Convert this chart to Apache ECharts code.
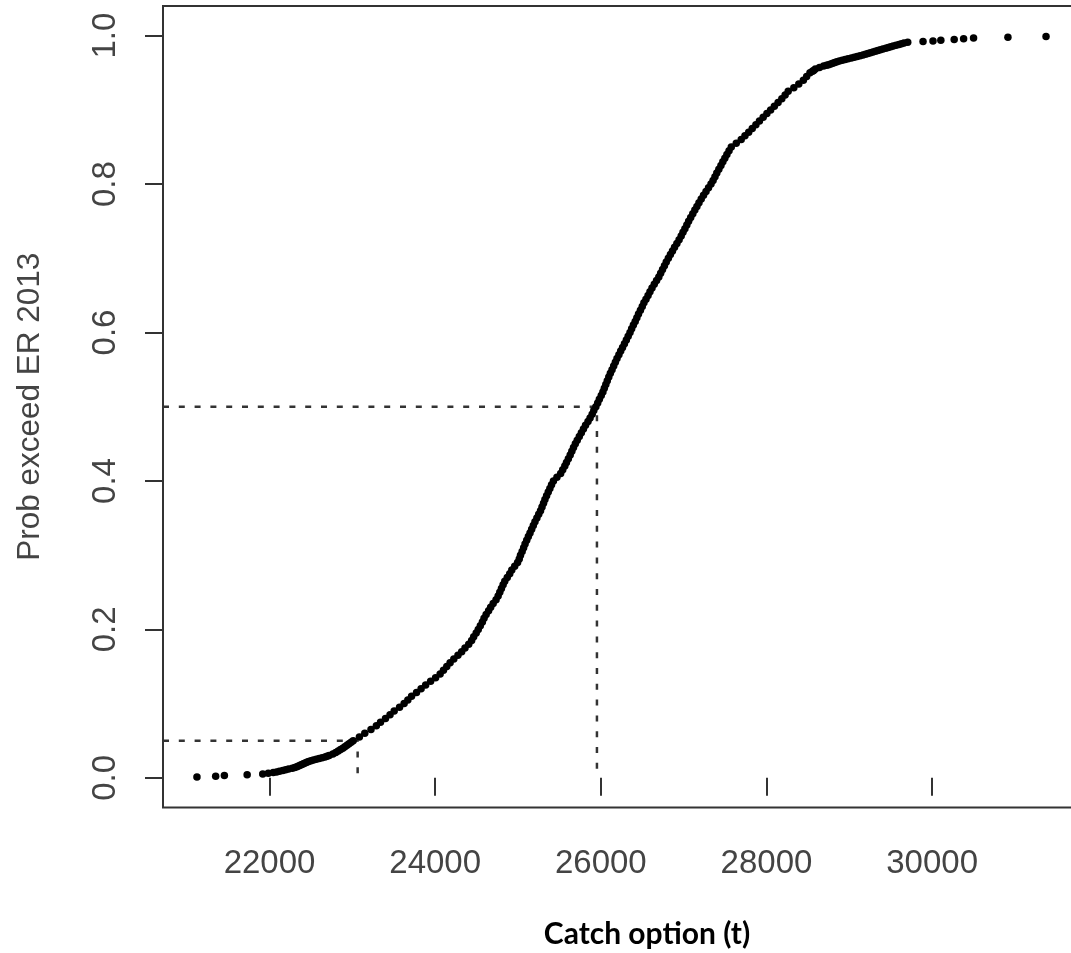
<!DOCTYPE html>
<html>
<head>
<meta charset="utf-8">
<title>Catch option vs probability of exceeding ER 2013</title>
<script src="https://cdn.jsdelivr.net/npm/echarts@6/dist/echarts.min.js"></script>
<style>
  html, body { margin: 0; padding: 0; background: #ffffff; }
  #chart { width: 1071px; height: 953px; }
</style>
</head>
<body>
<div id="chart"></div>
<script>
// Axis ticks
const xTicks = [22000, 24000, 26000, 28000, 30000];
const yTicks = [0, 0.2, 0.4, 0.6, 0.8, 1.0];

// Plot limits (data range padded by 4% on each side)
const xRange = [20714, 31773];
const yRange = [-0.04, 1.04];

// Cumulative probability of exceeding ER 2013 by catch option: [catch (t), probability]
const lowerTail = [
  [21124, 0.001], [21350, 0.002], [21455, 0.003], [21730, 0.004], [21918, 0.005],
  [21985, 0.006], [22045, 0.007], [22085, 0.008], [22120, 0.009], [22160, 0.010],
  [22195, 0.011], [22230, 0.012], [22275, 0.013], [22305, 0.014], [22330, 0.015],
  [22350, 0.016], [22370, 0.017], [22390, 0.018], [22410, 0.019], [22430, 0.020],
  [22450, 0.021], [22472, 0.022], [22500, 0.023], [22530, 0.024], [22565, 0.025],
  [22600, 0.026], [22635, 0.027], [22670, 0.028], [22695, 0.029], [22720, 0.030],
  [22765, 0.032], [22800, 0.034], [22830, 0.036], [22858, 0.038], [22885, 0.040],
  [22910, 0.042], [22935, 0.044], [22960, 0.046], [22985, 0.048]
];

const body = [
  [23010, 0.050], [23085, 0.055], [23150, 0.060], [23225, 0.065], [23290, 0.070],
  [23340, 0.075], [23400, 0.080], [23455, 0.085], [23505, 0.090], [23570, 0.095],
  [23625, 0.100], [23670, 0.105], [23715, 0.110], [23775, 0.115], [23830, 0.120],
  [23885, 0.125], [23945, 0.130], [24005, 0.135], [24060, 0.140], [24100, 0.145],
  [24140, 0.150], [24180, 0.155], [24225, 0.160], [24275, 0.165], [24320, 0.170],
  [24360, 0.175], [24405, 0.180], [24440, 0.185], [24465, 0.190], [24495, 0.195],
  [24520, 0.200], [24545, 0.205], [24570, 0.210], [24590, 0.215], [24615, 0.220],
  [24645, 0.225], [24670, 0.230], [24700, 0.235], [24735, 0.240], [24760, 0.245],
  [24780, 0.250], [24800, 0.255], [24820, 0.260], [24840, 0.265], [24870, 0.270],
  [24900, 0.275], [24925, 0.280], [24960, 0.285], [24995, 0.290], [25015, 0.295],
  [25030, 0.300], [25050, 0.305], [25068, 0.310], [25085, 0.315], [25105, 0.320],
  [25125, 0.325], [25145, 0.330], [25165, 0.335], [25185, 0.340], [25205, 0.345],
  [25228, 0.350], [25250, 0.355], [25272, 0.360], [25290, 0.365], [25308, 0.370],
  [25325, 0.375], [25345, 0.380], [25365, 0.385], [25385, 0.390], [25405, 0.395],
  [25428, 0.400], [25470, 0.405], [25515, 0.410], [25540, 0.415], [25565, 0.420],
  [25585, 0.425], [25608, 0.430], [25630, 0.435], [25650, 0.440], [25670, 0.445],
  [25692, 0.450], [25715, 0.455], [25740, 0.460], [25765, 0.465], [25790, 0.470],
  [25815, 0.475], [25845, 0.480], [25870, 0.485], [25895, 0.490], [25915, 0.495],
  [25940, 0.500], [25962, 0.505], [25982, 0.510], [26005, 0.515], [26025, 0.520],
  [26042, 0.525], [26060, 0.530], [26078, 0.535], [26096, 0.540], [26115, 0.545],
  [26135, 0.550], [26155, 0.555], [26175, 0.560], [26195, 0.565], [26218, 0.570],
  [26240, 0.575], [26262, 0.580], [26285, 0.585], [26308, 0.590], [26330, 0.595],
  [26352, 0.600], [26372, 0.605], [26393, 0.610], [26415, 0.615], [26435, 0.620],
  [26455, 0.625], [26478, 0.630], [26500, 0.635], [26520, 0.640], [26545, 0.645],
  [26570, 0.650], [26593, 0.655], [26618, 0.660], [26645, 0.665], [26673, 0.670],
  [26700, 0.675], [26722, 0.680], [26745, 0.685], [26768, 0.690], [26790, 0.695],
  [26815, 0.700], [26840, 0.705], [26865, 0.710], [26890, 0.715], [26918, 0.720],
  [26945, 0.725], [26970, 0.730], [26992, 0.735], [27015, 0.740], [27038, 0.745],
  [27060, 0.750], [27085, 0.755], [27110, 0.760], [27135, 0.765], [27160, 0.770],
  [27185, 0.775], [27212, 0.780], [27240, 0.785], [27270, 0.790], [27300, 0.795],
  [27330, 0.800], [27355, 0.805], [27378, 0.810], [27400, 0.815], [27425, 0.820],
  [27450, 0.825], [27473, 0.830], [27497, 0.835], [27522, 0.840], [27548, 0.845],
  [27575, 0.850], [27635, 0.855], [27695, 0.860], [27740, 0.865], [27785, 0.870],
  [27828, 0.875], [27872, 0.880], [27915, 0.885], [27960, 0.890], [28005, 0.895],
  [28050, 0.900], [28095, 0.905], [28140, 0.910], [28185, 0.915], [28225, 0.920],
  [28262, 0.925], [28330, 0.930], [28390, 0.935], [28445, 0.940], [28485, 0.945],
  [28525, 0.950], [28555, 0.952], [28570, 0.953]
];

const upperTail = [
  [28590, 0.955], [28640, 0.957], [28690, 0.959], [28725, 0.960], [28750, 0.961],
  [28775, 0.962], [28800, 0.963], [28825, 0.964], [28850, 0.965], [28880, 0.966],
  [28915, 0.967], [28950, 0.968], [28985, 0.969], [29025, 0.970], [29060, 0.971],
  [29095, 0.972], [29130, 0.973], [29165, 0.974], [29195, 0.975], [29225, 0.976],
  [29255, 0.977], [29285, 0.978], [29315, 0.979], [29345, 0.980], [29375, 0.981],
  [29405, 0.982], [29440, 0.983], [29470, 0.984], [29500, 0.985], [29530, 0.986],
  [29565, 0.987], [29600, 0.988], [29630, 0.989], [29660, 0.990], [29705, 0.991],
  [29890, 0.992], [30010, 0.993], [30105, 0.994], [30266, 0.995], [30380, 0.996],
  [30500, 0.997], [30915, 0.998], [31375, 0.999]
];

// Reference probabilities and the catch at which each is reached
const refProb = [0.05, 0.5];
const refCatch = [23064, 25953];

const axisGrey = '#333333';
const textGrey = '#444444';
const tickFont = '"Liberation Sans", Arial, Helvetica, sans-serif';

const chart = echarts.init(document.getElementById('chart'), null, { renderer: 'canvas' });

// Dotted guide from the left frame to the curve, then down to zero
const guideSeries = refProb.map((p, i) => ({
  type: 'line',
  data: [[xRange[0], p], [refCatch[i], p], [refCatch[i], 0]],
  showSymbol: false,
  symbol: 'none',
  silent: true,
  z: 1,
  lineStyle: { color: '#333333', width: 2.5, type: [6, 9.8] }
}));

chart.setOption({
  animation: false,
  backgroundColor: '#ffffff',
  grid: {
    left: 163,
    top: 6,
    right: -8,
    bottom: 145.5,
    show: true,
    borderColor: axisGrey,
    borderWidth: 2,
    backgroundColor: 'transparent',
    containLabel: false,
    outerBoundsMode: 'none'
  },
  xAxis: {
    type: 'value',
    min: xRange[0],
    max: xRange[1],
    axisLine: { show: false },
    splitLine: { show: false },
    axisTick: {
      show: true,
      inside: false,
      length: 18,
      customValues: xTicks,
      lineStyle: { color: axisGrey, width: 2 }
    },
    axisLabel: {
      show: true,
      customValues: xTicks,
      margin: 40,
      color: textGrey,
      fontFamily: tickFont,
      fontSize: 33,
      formatter: v => String(v)
    }
  },
  yAxis: {
    type: 'value',
    min: yRange[0],
    max: yRange[1],
    name: 'Prob exceed ER 2013',
    nameLocation: 'middle',
    nameRotate: 90,
    nameGap: 117,
    nameTextStyle: {
      color: textGrey,
      fontFamily: tickFont,
      fontSize: 31.5
    },
    axisLine: { show: false },
    splitLine: { show: false },
    axisTick: {
      show: true,
      inside: false,
      length: 18,
      customValues: yTicks,
      lineStyle: { color: axisGrey, width: 2 }
    },
    axisLabel: {
      show: true,
      customValues: yTicks,
      rotate: 90,
      margin: 41,
      color: textGrey,
      fontFamily: tickFont,
      fontSize: 33,
      formatter: v => v.toFixed(1)
    }
  },
  graphic: [{
    type: 'text',
    x: 647,
    y: 934,
    z: 10,
    style: {
      text: 'Catch option (t)',
      fill: '#000000',
      fontFamily: 'Lato, "Open Sans", sans-serif',
      fontWeight: 'bold',
      fontSize: 30,
      align: 'center',
      verticalAlign: 'middle'
    }
  }],
  series: [
    ...guideSeries,
    {
      type: 'scatter',
      data: lowerTail.concat(body, upperTail),
      symbol: 'circle',
      symbolSize: 7.5,
      z: 3,
      silent: true,
      itemStyle: { color: '#000000', opacity: 1 }
    }
  ]
});
</script>
</body>
</html>
